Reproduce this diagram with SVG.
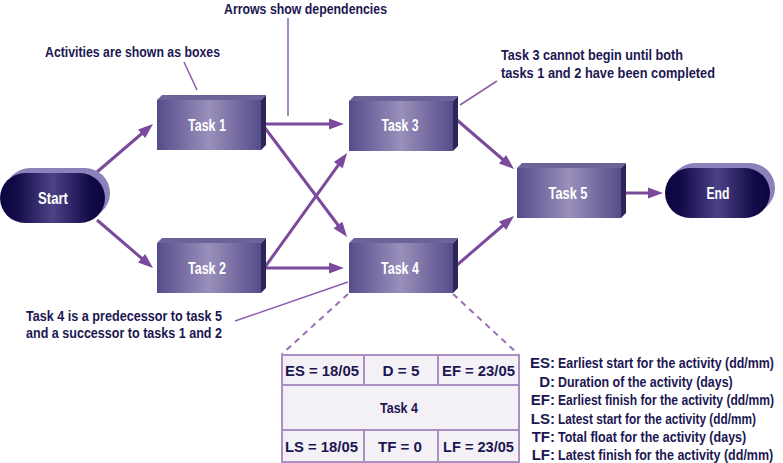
<svg xmlns="http://www.w3.org/2000/svg" width="783" height="463" viewBox="0 0 783 463">
<style>
text{font-family:"Liberation Sans",Arial,sans-serif;font-weight:bold;}
.ann{font-size:15px;fill:#1c1752;}
.lbl{font-size:16px;fill:#ffffff;text-anchor:middle;}
.tbl{font-size:15px;fill:#1c1752;text-anchor:middle;}
.leg{font-size:15px;fill:#1c1752;}
.legk{font-size:15px;fill:#1c1752;text-anchor:end;}
.front{fill:url(#boxGrad);}
.top{fill:#6c6499;}
.side{fill:#2c2558;}
.pillBack{fill:#8a82ba;}
.pill{fill:url(#pillGrad);}
.arrow{stroke:#7b4a9d;stroke-width:3;fill:none;marker-end:url(#ah);}
.call{stroke:#8d5cad;stroke-width:1.5;fill:none;}
.dash{stroke:#9a6db8;stroke-width:2;stroke-dasharray:6,5;fill:none;}
.cell{fill:#f3f0f6;stroke:#ab8fc4;stroke-width:2;}
</style>
<defs>
<linearGradient id="boxGrad" x1="0" y1="0" x2="1" y2="0">
<stop offset="0" stop-color="#564c8b"/>
<stop offset="0.5" stop-color="#9a90bb"/>
<stop offset="1" stop-color="#564c8b"/>
</linearGradient>
<linearGradient id="pillGrad" x1="0" y1="0" x2="1" y2="0">
<stop offset="0" stop-color="#0c0640"/>
<stop offset="0.15" stop-color="#120b48"/>
<stop offset="0.5" stop-color="#4c4286"/>
<stop offset="0.85" stop-color="#120b48"/>
<stop offset="1" stop-color="#0c0640"/>
</linearGradient>
<marker id="ah" markerUnits="userSpaceOnUse" markerWidth="16" markerHeight="13" refX="5" refY="6" orient="auto" overflow="visible">
<path d="M0,0.5 L15,6 L0,11.5 z" fill="#7b4a9d"/>
</marker>
</defs>

<g id="connectors">
<line class="arrow" x1="97" y1="172" x2="145.4" y2="130.5"/>
<line class="arrow" x1="97" y1="220" x2="145.4" y2="261.5"/>
<line class="arrow" x1="265" y1="124" x2="334" y2="124"/>
<line class="arrow" x1="265" y1="128" x2="341" y2="229"/>
<line class="arrow" x1="265" y1="267" x2="341.2" y2="161.1"/>
<line class="arrow" x1="265" y1="268" x2="334" y2="268"/>
<line class="arrow" x1="457" y1="120" x2="506.4" y2="162.5"/>
<line class="arrow" x1="457" y1="265" x2="506.4" y2="222.5"/>
<line class="arrow" x1="626" y1="193" x2="653" y2="193"/>
<line class="call" x1="184" y1="62" x2="197" y2="90"/>
<line class="call" x1="288" y1="18" x2="288" y2="116"/>
<line class="call" x1="497" y1="81" x2="460" y2="105"/>
<line class="call" x1="235" y1="321" x2="348" y2="282"/>
<line class="dash" x1="348" y1="294" x2="282" y2="354"/>
<line class="dash" x1="453" y1="294" x2="518" y2="354"/>
</g>

<g id="start">
<rect class="pillBack" x="5" y="168" width="105" height="50" rx="25"/>
<rect class="pill" x="0" y="173" width="105" height="50" rx="25"/>
<text class="lbl" x="53" y="204" textLength="30" lengthAdjust="spacingAndGlyphs">Start</text>
</g>

<g id="task1">
<polygon class="top" points="157,100 162,95 266,95 261,100"/>
<polygon class="side" points="261,100 266,95 266,145 261,150"/>
<rect class="front" x="157" y="100" width="104" height="50"/>
<text class="lbl" x="207" y="131" textLength="38" lengthAdjust="spacingAndGlyphs">Task 1</text>
</g>

<g id="task2">
<polygon class="top" points="157,243 162,238 266,238 261,243"/>
<polygon class="side" points="261,243 266,238 266,288 261,293"/>
<rect class="front" x="157" y="243" width="104" height="50"/>
<text class="lbl" x="207" y="274" textLength="38" lengthAdjust="spacingAndGlyphs">Task 2</text>
</g>

<g id="task3">
<polygon class="top" points="349,101 354,96 458,96 453,101"/>
<polygon class="side" points="453,101 458,96 458,146 453,151"/>
<rect class="front" x="349" y="101" width="104" height="50"/>
<text class="lbl" x="400" y="131" textLength="37" lengthAdjust="spacingAndGlyphs">Task 3</text>
</g>

<g id="task4">
<polygon class="top" points="349,243 354,238 458,238 453,243"/>
<polygon class="side" points="453,243 458,238 458,288 453,293"/>
<rect class="front" x="349" y="243" width="104" height="50"/>
<text class="lbl" x="400" y="274" textLength="38" lengthAdjust="spacingAndGlyphs">Task 4</text>
</g>

<g id="task5">
<polygon class="top" points="517,168 522,163 626,163 621,168"/>
<polygon class="side" points="621,168 626,163 626,213 621,218"/>
<rect class="front" x="517" y="168" width="104" height="50"/>
<text class="lbl" x="568" y="199" textLength="39" lengthAdjust="spacingAndGlyphs">Task 5</text>
</g>

<g id="end">
<rect class="pillBack" x="670" y="163" width="105" height="50" rx="25"/>
<rect class="pill" x="665" y="168" width="105" height="50" rx="25"/>
<text class="lbl" x="718" y="199" textLength="23" lengthAdjust="spacingAndGlyphs">End</text>
</g>

<g id="annotations">
<text class="ann" x="45" y="57" textLength="175" lengthAdjust="spacingAndGlyphs">Activities are shown as boxes</text>
<text class="ann" x="224" y="14" textLength="163" lengthAdjust="spacingAndGlyphs">Arrows show dependencies</text>
<text class="ann" x="501" y="60" textLength="182" lengthAdjust="spacingAndGlyphs">Task 3 cannot begin until both</text>
<text class="ann" x="501" y="78" textLength="214" lengthAdjust="spacingAndGlyphs">tasks 1 and 2 have been completed</text>
<text class="ann" x="26" y="321" textLength="196" lengthAdjust="spacingAndGlyphs">Task 4 is a predecessor to task 5</text>
<text class="ann" x="26" y="338" textLength="196" lengthAdjust="spacingAndGlyphs">and a successor to tasks 1 and 2</text>
</g>

<g id="detail-table">
<rect class="cell" x="282" y="355" width="82" height="30"/>
<rect class="cell" x="364" y="355" width="74" height="30"/>
<rect class="cell" x="438" y="355" width="81" height="30"/>
<rect class="cell" x="282" y="385" width="237" height="45"/>
<rect class="cell" x="282" y="430" width="82" height="32"/>
<rect class="cell" x="364" y="430" width="74" height="32"/>
<rect class="cell" x="438" y="430" width="81" height="32"/>
<text class="tbl" x="322" y="376" textLength="74" lengthAdjust="spacingAndGlyphs">ES = 18/05</text>
<text class="tbl" x="401" y="376" textLength="37" lengthAdjust="spacingAndGlyphs">D = 5</text>
<text class="tbl" x="478.5" y="376" textLength="73" lengthAdjust="spacingAndGlyphs">EF = 23/05</text>
<text class="tbl" x="399" y="413" textLength="38" lengthAdjust="spacingAndGlyphs">Task 4</text>
<text class="tbl" x="321.5" y="452" textLength="73" lengthAdjust="spacingAndGlyphs">LS = 18/05</text>
<text class="tbl" x="400" y="452" textLength="44" lengthAdjust="spacingAndGlyphs">TF = 0</text>
<text class="tbl" x="478.5" y="452" textLength="71" lengthAdjust="spacingAndGlyphs">LF = 23/05</text>
</g>

<g id="legend">
<text class="legk" x="555" y="368">ES:</text>
<text class="leg" transform="translate(558,368) scale(0.75,1)" textLength="288" lengthAdjust="spacingAndGlyphs">Earliest start for the activity (dd/mm)</text>
<text class="legk" x="555" y="386.5">D:</text>
<text class="leg" transform="translate(558,386.5) scale(0.75,1)" textLength="233" lengthAdjust="spacingAndGlyphs">Duration of the activity (days)</text>
<text class="legk" x="555" y="405">EF:</text>
<text class="leg" transform="translate(558,405) scale(0.75,1)" textLength="288" lengthAdjust="spacingAndGlyphs">Earliest finish for the activity (dd/mm)</text>
<text class="legk" x="555" y="423.5">LS:</text>
<text class="leg" transform="translate(558,423.5) scale(0.75,1)" textLength="264" lengthAdjust="spacingAndGlyphs">Latest start for the activity (dd/mm)</text>
<text class="legk" x="555" y="442">TF:</text>
<text class="leg" transform="translate(558,442) scale(0.75,1)" textLength="251" lengthAdjust="spacingAndGlyphs">Total float for the activity (days)</text>
<text class="legk" x="555" y="459.5">LF:</text>
<text class="leg" transform="translate(558,459.5) scale(0.75,1)" textLength="287" lengthAdjust="spacingAndGlyphs">Latest finish for the activity (dd/mm)</text>
</g>
</svg>
